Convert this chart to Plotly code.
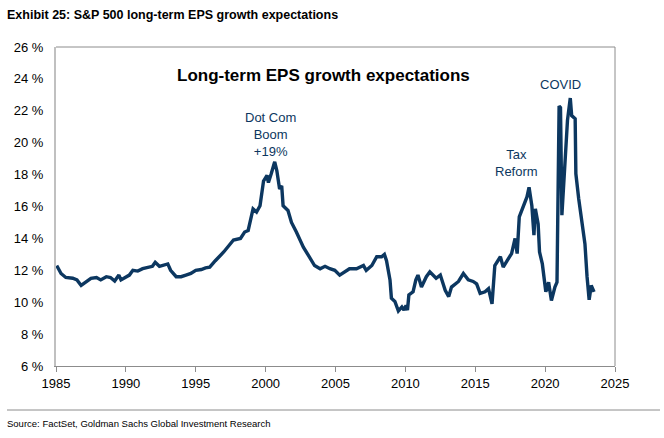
import plotly.graph_objects as go

# Decimal-year dates and long-term EPS growth expectations (%)
years = [
    1985.05, 1985.36, 1985.7, 1986.2, 1986.5, 1986.8, 1987.15, 1987.5, 1987.9, 1988.2,
    1988.6, 1988.9, 1989.2, 1989.5, 1989.65, 1990.0, 1990.25, 1990.5, 1990.85, 1991.2,
    1991.55, 1991.9, 1992.1, 1992.4, 1993.0, 1993.2, 1993.6, 1993.95, 1994.3, 1994.65,
    1995.0, 1995.4, 1995.7, 1996.0, 1996.4, 1997.0, 1997.7, 1998.2, 1998.5, 1998.75,
    1999.1, 1999.35, 1999.6, 1999.85, 2000.1, 2000.2, 2000.4, 2000.65, 2000.8, 2001.0,
    2001.15, 2001.25, 2001.6, 2001.85, 2002.2, 2002.7, 2003.05, 2003.5, 2003.9, 2004.25,
    2004.6, 2004.95, 2005.3, 2005.7, 2006.0, 2006.5, 2007.0, 2007.2, 2007.6, 2007.95,
    2008.3, 2008.5, 2008.65, 2008.9, 2009.0, 2009.25, 2009.5, 2009.75, 2009.9, 2010.05,
    2010.15, 2010.25, 2010.55, 2010.75, 2010.9, 2011.15, 2011.5, 2011.75, 2012.0, 2012.2,
    2012.5, 2012.85, 2013.1, 2013.3, 2013.8, 2014.15, 2014.5, 2014.85, 2015.1, 2015.35,
    2015.7, 2015.95, 2016.2, 2016.4, 2016.8, 2017.0, 2017.35, 2017.6, 2017.85, 2018.0,
    2018.15, 2018.45, 2018.7, 2018.85, 2019.05, 2019.2, 2019.3, 2019.5, 2019.6, 2019.8,
    2020.05, 2020.25, 2020.45, 2020.7, 2020.85, 2021.0, 2021.1, 2021.2, 2021.35, 2021.5,
    2021.6, 2021.8, 2021.9, 2022.15, 2022.2, 2022.4, 2022.65, 2022.85, 2023.0, 2023.15,
    2023.3, 2023.5,
]
eps_growth = [
    12.3, 11.8, 11.55, 11.5, 11.4, 11.05, 11.27, 11.5, 11.55, 11.4,
    11.6, 11.55, 11.33, 11.7, 11.4, 11.55, 11.7, 12.0, 11.95, 12.1,
    12.15, 12.25, 12.5, 12.25, 12.4, 12.0, 11.6, 11.6, 11.7, 11.8,
    12.0, 12.05, 12.15, 12.2, 12.6, 13.15, 13.9, 14.0, 14.4, 14.5,
    15.85, 15.65, 16.05, 17.6, 17.95, 17.5, 18.05, 18.8, 18.25, 17.1,
    17.3, 16.05, 15.75, 15.0, 14.4, 13.45, 12.95, 12.3, 12.1, 12.25,
    12.1, 12.0, 11.7, 11.9, 12.1, 12.1, 12.3, 12.0, 12.3, 12.85,
    12.85, 13.0, 12.6, 11.4, 10.25, 10.05, 9.45, 9.7, 9.5, 9.8,
    9.5, 10.45, 10.65, 11.4, 11.7, 10.95, 11.6, 11.9, 11.7, 11.5,
    11.7, 10.75, 10.35, 10.95, 11.3, 11.8, 11.4, 11.3, 11.15, 10.55,
    10.65, 10.85, 9.9, 12.3, 12.85, 12.2, 12.7, 13.05, 14.0, 13.05,
    15.35, 16.05, 16.6, 17.2, 16.05, 14.2, 15.85, 14.9, 13.15, 12.4,
    10.65, 11.25, 10.1, 10.95, 11.25, 22.3, 22.2, 15.45, 17.6, 19.3,
    21.4, 22.8, 21.7, 21.5, 18.05, 16.5, 14.7, 13.65, 11.6, 10.15,
    11.05, 10.65,
]

x_ticks = [1985, 1990, 1995, 2000, 2005, 2010, 2015, 2020, 2025]
y_ticks = [6, 8, 10, 12, 14, 16, 18, 20, 22, 24, 26]
y_tick_labels = [f"{v} %" for v in y_ticks]

NAVY = "#0c3760"
W, H = 664, 438
L, R, T, B = 56, 615, 47, 366  # plot area in pixels


def px(xp):
    return (xp - L) / (R - L)


def py(yp):
    return (B - yp) / (B - T)


fig = go.Figure()
fig.add_trace(go.Scatter(
    x=years, y=eps_growth, mode="lines",
    line=dict(color=NAVY, width=3.4),
    hoverinfo="skip", showlegend=False,
))

font_main = "Liberation Sans, Arial, sans-serif"

fig.update_layout(
    width=W, height=H,
    margin=dict(l=L, r=W - R, t=T, b=H - B, autoexpand=False),
    paper_bgcolor="white", plot_bgcolor="white",
    font=dict(family=font_main, size=13, color="black"),
    xaxis=dict(
        range=[1985, 2025], tickvals=x_ticks, ticktext=[str(v) for v in x_ticks],
        automargin=False,
        showgrid=False, zeroline=False,
        showline=True, linecolor="#8c8c8c", linewidth=1,
        ticks="outside", ticklen=5, tickcolor="#8c8c8c", tickwidth=1,
        tickfont=dict(size=13, color="black"),
    ),
    yaxis=dict(
        range=[6, 26], tickvals=y_ticks, ticktext=y_tick_labels,
        automargin=False,
        showgrid=False, zeroline=False,
        showline=True, linecolor="#c0c0c0", linewidth=2,
        ticks="outside", ticklen=8, tickcolor="rgba(0,0,0,0)",
        tickfont=dict(size=13, color="black"),
    ),
    shapes=[
        dict(type="line", xref="paper", yref="paper", x0=0, x1=1, y0=1, y1=1,
             line=dict(color="#8c8c8c", width=1)),
        dict(type="line", xref="paper", yref="paper", x0=1, x1=1, y0=0, y1=1,
             line=dict(color="#8c8c8c", width=1)),
        dict(type="line", xref="paper", yref="paper", x0=px(7), x1=px(660),
             y0=py(410), y1=py(410), line=dict(color="#8c8c8c", width=1)),
    ],
    annotations=[
        dict(text="<b>Exhibit 25: S&P 500 long-term EPS growth expectations</b>",
             xref="paper", yref="paper", x=px(5), y=py(15), xanchor="left", yanchor="middle",
             showarrow=False, font=dict(family=font_main, size=12.5, color="black")),
        dict(text="Source: FactSet, Goldman Sachs Global Investment Research",
             xref="paper", yref="paper", x=px(5), y=py(423), xanchor="left", yanchor="middle",
             showarrow=False, font=dict(family=font_main, size=9.5, color="black")),
        dict(text="<b>Long-term EPS growth expectations</b>",
             xref="paper", yref="paper", x=px(323), y=py(75), xanchor="center", yanchor="middle",
             showarrow=False, font=dict(family=font_main, size=17, color="black")),
        dict(text="Dot Com<br>Boom<br>+19%",
             xref="paper", yref="paper", x=px(270), y=py(134), xanchor="center", yanchor="middle",
             showarrow=False, font=dict(family=font_main, size=13, color=NAVY)),
        dict(text="Tax<br>Reform",
             xref="paper", yref="paper", x=px(516), y=py(163), xanchor="center", yanchor="middle",
             showarrow=False, font=dict(family=font_main, size=13, color=NAVY)),
        dict(text="COVID",
             xref="paper", yref="paper", x=px(560), y=py(85), xanchor="center", yanchor="middle",
             showarrow=False, font=dict(family=font_main, size=13, color=NAVY)),
    ],
)

fig.write_html(
    "out.html",
    config={"displayModeBar": False},
    post_script="document.body.style.margin='0';document.body.style.padding='0';",
)
